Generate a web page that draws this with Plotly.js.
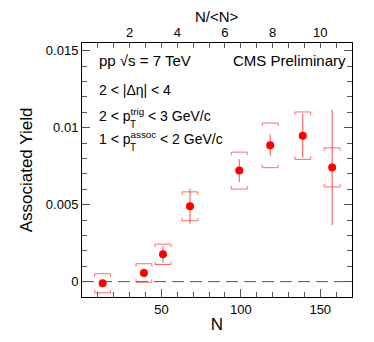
<!DOCTYPE html>
<html>
<head>
<meta charset="utf-8">
<script src="https://cdn.plot.ly/plotly-3.0.1.min.js"></script>
<style>
  body { margin: 0; background: #fff; }
  #chart { width: 374px; height: 342px; }
</style>
</head>
<body>
<div id="chart"></div>
<script>
// multiplicity bins (N) and associated yield
var nch = [13, 39, 51, 68, 99, 118.5, 139, 157.5];
var yieldVal = [-0.00011, 0.00056, 0.00177, 0.00489, 0.00721, 0.00885, 0.00948, 0.00742];
var statErr = [0.0002, 0.0003, 0.00054, 0.00114, 0.00074, 0.0007, 0.00143, 0.00376];
var sysErr = [0.00062, 0.0006, 0.00066, 0.00094, 0.0012, 0.00145, 0.00154, 0.00127];

// top axis: N/<N>
var meanN = 15;
var topTicks = [2, 4, 6, 8, 10];

var yTickVals = [0, 0.005, 0.01, 0.015];
var yTickText = ['0', '0.005', '0.01', '0.015'];

var font = 'Liberation Sans, Arial, Helvetica, sans-serif';

var marginL = 82, marginR = 22, marginT = 43, marginB = 45;
var plotW = 374 - marginL - marginR;
var plotH = 342 - marginT - marginB;

// Build the systematic brackets from the data
function sysBrackets(halfW, tick) {
    var xs = [], ys = [];
    for (var i = 0; i < nch.length; i++) {
        var n = nch[i], y = yieldVal[i], s = sysErr[i];
        xs.push(n - halfW, n - halfW, n + halfW, n + halfW, null);
        ys.push(y + s - tick, y + s, y + s, y + s - tick, null);
        xs.push(n - halfW, n - halfW, n + halfW, n + halfW, null);
        ys.push(y - s + tick, y - s, y - s, y - s + tick, null);
    }
    return { x: xs, y: ys };
}

// width of a text in px, to place the stacked "T" subscript
function textWidth(str, size) {
    var ctx = document.createElement('canvas').getContext('2d');
    ctx.font = size + 'px ' + font;
    return ctx.measureText(str).width;
}

var br = sysBrackets(5, 0.0002);

var traceSys = {
    x: br.x,
    y: br.y,
    type: 'scatter',
    mode: 'lines',
    line: { color: '#ff6b6b', width: 1 },
    hoverinfo: 'skip',
    showlegend: false
};

var traceData = {
    x: nch,
    y: yieldVal,
    type: 'scatter',
    mode: 'markers',
    marker: { color: '#ff0000', size: 8 },
    error_y: { type: 'data', array: statErr, visible: true, color: '#ff4d4d', thickness: 1, width: 0 },
    showlegend: false
};

// dummy trace so the top axis gets drawn
var traceTop = {
    x: nch,
    y: yieldVal,
    xaxis: 'x2',
    type: 'scatter',
    mode: 'markers',
    marker: { opacity: 0 },
    hoverinfo: 'skip',
    showlegend: false
};

var data = [traceSys, traceData, traceTop];

// text box position
var txtX = 0.055;
var lineSize = 14;
var pEnd = (txtX * plotW + textWidth('2 < p', lineSize)) / plotW;

var layout = {
    width: 374,
    height: 342,
    margin: { l: marginL, r: marginR, t: marginT, b: marginB },
    paper_bgcolor: '#fff',
    plot_bgcolor: '#fff',
    font: { family: font, size: 13, color: '#000' },
    showlegend: false,
    xaxis: {
        range: [0, 170],
        title: { text: 'N', font: { size: 17 }, standoff: 2 },
        tickvals: [50, 100, 150],
        ticks: 'inside',
        ticklen: 8,
        tickcolor: '#555',
        minor: { dtick: 10, ticks: 'inside', ticklen: 5, tickcolor: '#555' },
        showline: true,
        linecolor: '#000',
        showgrid: false,
        zeroline: false
    },
    xaxis2: {
        overlaying: 'x',
        side: 'top',
        range: [0, 170],
        tickvals: topTicks.map(function (v) { return v * meanN; }),
        ticktext: topTicks.map(String),
        ticks: 'inside',
        ticklen: 5,
        tickcolor: '#555',
        minor: { dtick: 10, ticks: 'inside', ticklen: 5, tickcolor: '#555' },
        showline: true,
        linecolor: '#000',
        showgrid: false,
        zeroline: false
    },
    yaxis: {
        range: [-0.001, 0.0155],
        title: { text: 'Associated Yield', font: { size: 17 }, standoff: 8 },
        tickvals: yTickVals,
        ticktext: yTickText,
        ticks: 'inside',
        ticklen: 8,
        tickcolor: '#555',
        minor: { dtick: 0.001, ticks: 'inside', ticklen: 5, tickcolor: '#555' },
        showline: true,
        linecolor: '#000',
        mirror: 'ticks',
        showgrid: false,
        zeroline: false
    },
    shapes: [{
        type: 'line',
        xref: 'paper', x0: 0, x1: 1,
        yref: 'y', y0: 0, y1: 0,
        layer: 'below',
        line: { color: '#555', width: 1, dash: '12px,6px' }
    }],
    annotations: [
        { xref: 'paper', yref: 'paper', x: 0.5, y: 1.105, xanchor: 'center', yanchor: 'middle',
          text: 'N/<N>', showarrow: false, font: { size: 15 } },
        { xref: 'paper', yref: 'paper', x: txtX, y: 0.93, xanchor: 'left', yanchor: 'middle',
          text: 'pp \u221As = 7 TeV', showarrow: false, font: { size: 15 } },
        { xref: 'paper', yref: 'paper', x: 0.985, y: 0.93, xanchor: 'right', yanchor: 'middle',
          text: 'CMS Preliminary', showarrow: false, font: { size: 15 } },
        { xref: 'paper', yref: 'paper', x: txtX, y: 0.815, xanchor: 'left', yanchor: 'middle',
          text: '2 < |\u0394\u03b7| < 4', showarrow: false, font: { size: lineSize } },
        { xref: 'paper', yref: 'paper', x: txtX, y: 0.715, xanchor: 'left', yanchor: 'middle',
          text: '2 < p<sup>trig</sup> < 3 GeV/c', showarrow: false, font: { size: lineSize } },
        { xref: 'paper', yref: 'paper', x: pEnd, y: 0.68, xanchor: 'left', yanchor: 'middle',
          text: 'T', showarrow: false, font: { size: 10 } },
        { xref: 'paper', yref: 'paper', x: txtX, y: 0.625, xanchor: 'left', yanchor: 'middle',
          text: '1 < p<sup>assoc</sup> < 2 GeV/c', showarrow: false, font: { size: lineSize } },
        { xref: 'paper', yref: 'paper', x: pEnd, y: 0.59, xanchor: 'left', yanchor: 'middle',
          text: 'T', showarrow: false, font: { size: 10 } }
    ]
};

Plotly.newPlot('chart', data, layout, { displayModeBar: false, staticPlot: true });
</script>
</body>
</html>
